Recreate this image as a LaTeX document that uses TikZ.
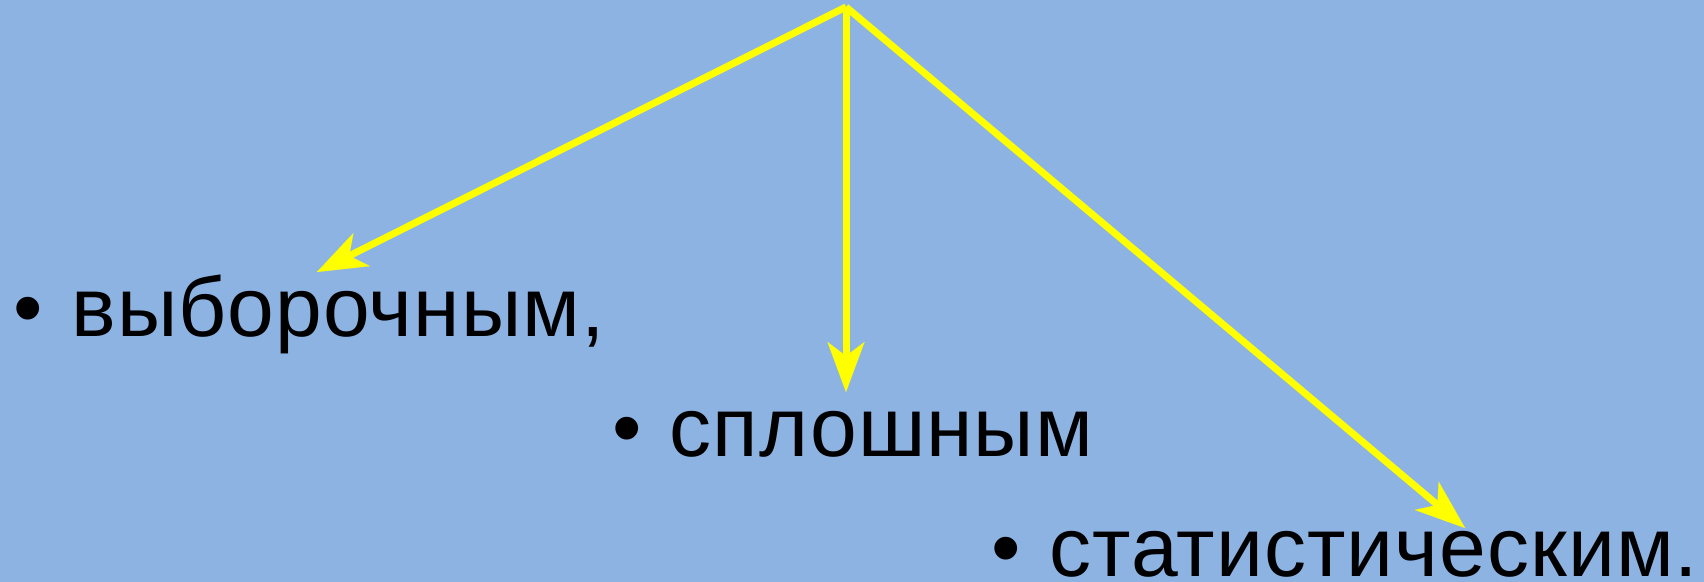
\documentclass[tikz,border=0pt]{standalone}
\usepackage{fontspec}
\setmainfont{Liberation Sans}[LetterSpace=1.2]
\usetikzlibrary{arrows.meta}
\definecolor{bgblue}{HTML}{8DB3E2}
\definecolor{arrowyellow}{HTML}{FFFF00}
\tikzset{
  px/.style={x=0.5pt,y=-0.5pt},
  item/.style={anchor=base west,inner sep=0pt,outer sep=0pt,text=black,
    font=\fontsize{42}{50}\selectfont},
  pointer/.style={draw=arrowyellow,line width=3.5pt,
    -{Stealth[length=25pt,width=18.5pt,inset=7pt,line width=0.01pt,fill=arrowyellow]}}
}
\newcommand{\bulletitem}[1]{\makebox[29pt][l]{•}#1}
\begin{document}
\begin{tikzpicture}[px]
  % canvas
  \fill[bgblue] (0,0) rectangle (1704,582);
  \useasboundingbox (0,0) rectangle (1704,582);

  % list items
  \node[item] (vyb) at (13.5,337) {\bulletitem{выборочным,}};
  \node[item] (spl) at (612,457) {\bulletitem{сплошным}};
  \node[item] (stat) at (991.5,577) {\bulletitem{статистическим.}};

  % common origin and arrow tips
  \coordinate (apex) at (846,7);
  \coordinate (tipL) at (317,272);
  \coordinate (tipM) at (846,392);
  \coordinate (tipR) at (1465,528);

  \draw[pointer] (apex) -- (tipL);
  \draw[pointer] (apex) -- (tipM);
  \draw[pointer] (apex) -- (tipR);
\end{tikzpicture}
\end{document}
